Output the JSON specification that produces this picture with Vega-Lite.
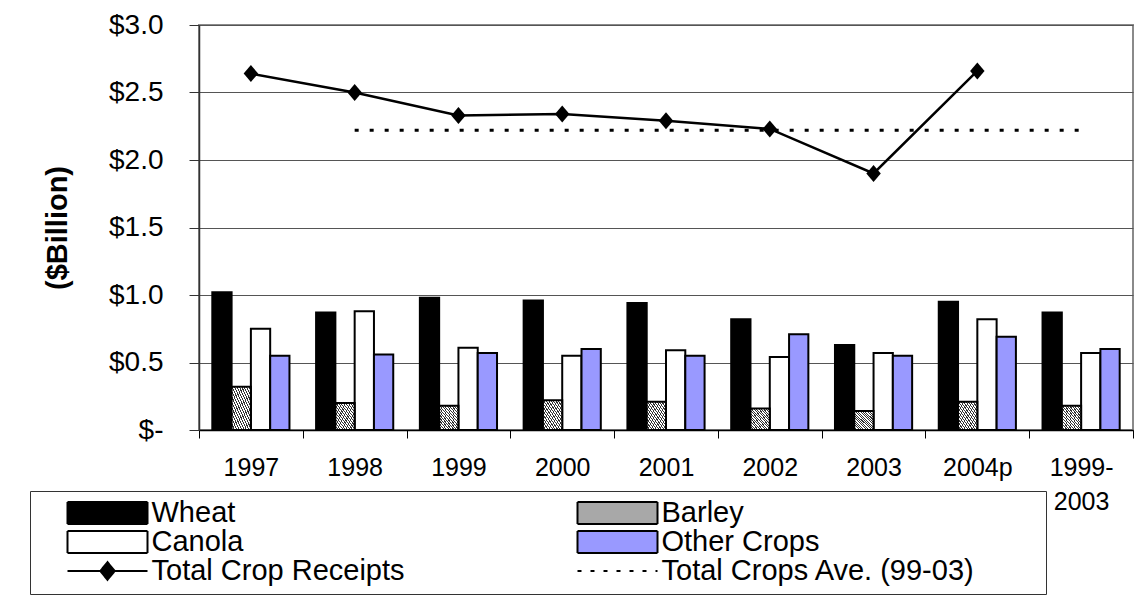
{
  "$schema": "https://vega.github.io/schema/vega-lite/v6.json",
  "width": 934,
  "height": 405,
  "autosize": "none",
  "padding": {"left": 199, "top": 25, "right": 10, "bottom": 169},
  "background": "white",
  "config": {
    "font": "Liberation Sans",
    "view": {"stroke": "#8a8a8a", "strokeWidth": 2}
  },
  "data": {
    "values": [
      {"year": "1997", "series": "Wheat", "value": 1.02},
      {"year": "1997", "series": "Barley", "value": 0.32},
      {"year": "1997", "series": "Canola", "value": 0.75},
      {"year": "1997", "series": "Other Crops", "value": 0.55},
      {"year": "1998", "series": "Wheat", "value": 0.87},
      {"year": "1998", "series": "Barley", "value": 0.20},
      {"year": "1998", "series": "Canola", "value": 0.88},
      {"year": "1998", "series": "Other Crops", "value": 0.56},
      {"year": "1999", "series": "Wheat", "value": 0.98},
      {"year": "1999", "series": "Barley", "value": 0.18},
      {"year": "1999", "series": "Canola", "value": 0.61},
      {"year": "1999", "series": "Other Crops", "value": 0.57},
      {"year": "2000", "series": "Wheat", "value": 0.96},
      {"year": "2000", "series": "Barley", "value": 0.22},
      {"year": "2000", "series": "Canola", "value": 0.55},
      {"year": "2000", "series": "Other Crops", "value": 0.60},
      {"year": "2001", "series": "Wheat", "value": 0.94},
      {"year": "2001", "series": "Barley", "value": 0.21},
      {"year": "2001", "series": "Canola", "value": 0.59},
      {"year": "2001", "series": "Other Crops", "value": 0.55},
      {"year": "2002", "series": "Wheat", "value": 0.82},
      {"year": "2002", "series": "Barley", "value": 0.16},
      {"year": "2002", "series": "Canola", "value": 0.54},
      {"year": "2002", "series": "Other Crops", "value": 0.71},
      {"year": "2003", "series": "Wheat", "value": 0.63},
      {"year": "2003", "series": "Barley", "value": 0.14},
      {"year": "2003", "series": "Canola", "value": 0.57},
      {"year": "2003", "series": "Other Crops", "value": 0.55},
      {"year": "2004p", "series": "Wheat", "value": 0.95},
      {"year": "2004p", "series": "Barley", "value": 0.21},
      {"year": "2004p", "series": "Canola", "value": 0.82},
      {"year": "2004p", "series": "Other Crops", "value": 0.69},
      {"year": "1999-2003", "series": "Wheat", "value": 0.87},
      {"year": "1999-2003", "series": "Barley", "value": 0.18},
      {"year": "1999-2003", "series": "Canola", "value": 0.57},
      {"year": "1999-2003", "series": "Other Crops", "value": 0.60},
      {"year": "1997", "series": "Total Crop Receipts", "value": 2.64},
      {"year": "1998", "series": "Total Crop Receipts", "value": 2.50},
      {"year": "1999", "series": "Total Crop Receipts", "value": 2.33},
      {"year": "2000", "series": "Total Crop Receipts", "value": 2.34},
      {"year": "2001", "series": "Total Crop Receipts", "value": 2.29},
      {"year": "2002", "series": "Total Crop Receipts", "value": 2.23},
      {"year": "2003", "series": "Total Crop Receipts", "value": 1.90},
      {"year": "2004p", "series": "Total Crop Receipts", "value": 2.66},
      {"year": "1998", "series": "Total Crops Ave. (99-03)", "value": 2.22},
      {"year": "1999-2003", "series": "Total Crops Ave. (99-03)", "value": 2.22}
    ]
  },
  "encoding": {
    "x": {
      "field": "year",
      "type": "nominal",
      "sort": ["1997", "1998", "1999", "2000", "2001", "2002", "2003", "2004p", "1999-2003"],
      "scale": {"paddingInner": 0, "paddingOuter": 0},
      "axis": {
        "title": null,
        "labelFontSize": 25,
        "labelColor": "black",
        "labelAngle": 0,
        "tickSize": 8,
        "tickBand": "extent",
        "tickColor": "black",
        "domainColor": "black",
        "domainWidth": 1.5,
        "labelPadding": 17,
        "labelLineHeight": 34,
        "labelBaseline": "top",
        "labelExpr": "datum.label == '1999-2003' ? ['1999-', '2003'] : datum.label"
      }
    },
    "y": {
      "field": "value",
      "type": "quantitative",
      "scale": {"domain": [0, 3], "nice": false},
      "axis": {
        "values": [0, 0.5, 1, 1.5, 2, 2.5, 3],
        "labelExpr": "datum.value == 0 ? '$-' : '$' + format(datum.value, '.1f')",
        "labelFontSize": 28,
        "labelColor": "black",
        "labelPadding": 26,
        "tickSize": 10,
        "tickColor": "#333",
        "domainColor": "#333",
        "domainWidth": 1.5,
        "gridColor": "#555",
        "title": "($Billion)",
        "titleFontSize": 29,
        "titleFontWeight": "bold",
        "titleColor": "black",
        "titleAngle": 270,
        "titleX": -142,
        "titleY": 202.5,
        "titleAlign": "center",
        "titleBaseline": "middle"
      }
    }
  },
  "layer": [
    {
      "transform": [{"filter": "indexof(['Wheat','Canola','Other Crops'], datum.series) >= 0"}],
      "mark": {"type": "bar", "stroke": "black", "strokeWidth": 2},
      "encoding": {
        "xOffset": {
          "field": "series",
          "type": "nominal",
          "sort": ["Wheat", "Barley", "Canola", "Other Crops"],
          "scale": {"domain": ["Wheat", "Barley", "Canola", "Other Crops"], "paddingInner": 0, "paddingOuter": 0.69}
        },
        "fill": {
          "field": "series",
          "type": "nominal",
          "scale": {
            "domain": ["Wheat", "Canola", "Total Crop Receipts", "Barley", "Other Crops", "Total Crops Ave. (99-03)"],
            "range": ["#000000", "#ffffff", "#000000", "#a8a8a8", "#9999ff", "#000000"]
          },
          "legend": {
            "title": "\u00a0",
            "titleOrient": "right",
            "titlePadding": 63,
            "titleFontSize": 10,
            "orient": "none",
            "legendX": -169,
            "legendY": 466,
            "columns": 2,
            "strokeColor": "#333",
            "padding": 8,
            "labelFontSize": 29,
            "labelColor": "black",
            "labelLimit": 700,
            "symbolSize": 6400,
            "symbolStrokeWidth": 2,
            "clipHeight": 28,
            "rowPadding": 0,
            "columnPadding": 143,
            "symbolOffset": 28.5,
            "labelOffset": 3
          }
        }
      }
    },
    {
      "transform": [{"filter": "datum.series == 'Barley'"}],
      "mark": {
        "type": "bar",
        "stroke": "black",
        "strokeWidth": 2,
        "fill": {"gradient": "linear", "x1": 0, "y1": 1, "x2": 1, "y2": 0, "stops": [
          {"offset": 0, "color": "#333"}, {"offset": 0.028, "color": "#333"}, {"offset": 0.028, "color": "#fff"}, {"offset": 0.0625, "color": "#fff"},
          {"offset": 0.0625, "color": "#333"}, {"offset": 0.0906, "color": "#333"}, {"offset": 0.0906, "color": "#fff"}, {"offset": 0.125, "color": "#fff"},
          {"offset": 0.125, "color": "#333"}, {"offset": 0.1531, "color": "#333"}, {"offset": 0.1531, "color": "#fff"}, {"offset": 0.1875, "color": "#fff"},
          {"offset": 0.1875, "color": "#333"}, {"offset": 0.2156, "color": "#333"}, {"offset": 0.2156, "color": "#fff"}, {"offset": 0.25, "color": "#fff"},
          {"offset": 0.25, "color": "#333"}, {"offset": 0.2781, "color": "#333"}, {"offset": 0.2781, "color": "#fff"}, {"offset": 0.3125, "color": "#fff"},
          {"offset": 0.3125, "color": "#333"}, {"offset": 0.3406, "color": "#333"}, {"offset": 0.3406, "color": "#fff"}, {"offset": 0.375, "color": "#fff"},
          {"offset": 0.375, "color": "#333"}, {"offset": 0.4031, "color": "#333"}, {"offset": 0.4031, "color": "#fff"}, {"offset": 0.4375, "color": "#fff"},
          {"offset": 0.4375, "color": "#333"}, {"offset": 0.4656, "color": "#333"}, {"offset": 0.4656, "color": "#fff"}, {"offset": 0.5, "color": "#fff"},
          {"offset": 0.5, "color": "#333"}, {"offset": 0.5281, "color": "#333"}, {"offset": 0.5281, "color": "#fff"}, {"offset": 0.5625, "color": "#fff"},
          {"offset": 0.5625, "color": "#333"}, {"offset": 0.5906, "color": "#333"}, {"offset": 0.5906, "color": "#fff"}, {"offset": 0.625, "color": "#fff"},
          {"offset": 0.625, "color": "#333"}, {"offset": 0.6531, "color": "#333"}, {"offset": 0.6531, "color": "#fff"}, {"offset": 0.6875, "color": "#fff"},
          {"offset": 0.6875, "color": "#333"}, {"offset": 0.7156, "color": "#333"}, {"offset": 0.7156, "color": "#fff"}, {"offset": 0.75, "color": "#fff"},
          {"offset": 0.75, "color": "#333"}, {"offset": 0.7781, "color": "#333"}, {"offset": 0.7781, "color": "#fff"}, {"offset": 0.8125, "color": "#fff"},
          {"offset": 0.8125, "color": "#333"}, {"offset": 0.8406, "color": "#333"}, {"offset": 0.8406, "color": "#fff"}, {"offset": 0.875, "color": "#fff"},
          {"offset": 0.875, "color": "#333"}, {"offset": 0.9031, "color": "#333"}, {"offset": 0.9031, "color": "#fff"}, {"offset": 0.9375, "color": "#fff"},
          {"offset": 0.9375, "color": "#333"}, {"offset": 0.9656, "color": "#333"}, {"offset": 0.9656, "color": "#fff"}, {"offset": 1, "color": "#fff"}
        ]}
      },
      "encoding": {
        "xOffset": {
          "field": "series",
          "type": "nominal",
          "sort": ["Wheat", "Barley", "Canola", "Other Crops"],
          "scale": {"domain": ["Wheat", "Barley", "Canola", "Other Crops"], "paddingInner": 0, "paddingOuter": 0.69}
        }
      }
    },
    {
      "transform": [{"filter": "datum.series == 'Total Crops Ave. (99-03)'"}],
      "mark": {"type": "line", "color": "black", "strokeWidth": 3, "strokeDash": [4, 11]},
      "encoding": {}
    },
    {
      "transform": [{"filter": "datum.series == 'Total Crop Receipts'"}],
      "mark": {
        "type": "line",
        "color": "black",
        "strokeWidth": 2.5,
        "point": {"shape": "M0,-1L0.85,0L0,1L-0.85,0Z", "size": 289, "filled": true, "color": "black", "opacity": 1}
      },
      "encoding": {}
    },
    {
      "transform": [{"filter": "false"}],
      "mark": {"type": "point", "filled": true, "opacity": 1, "strokeWidth": 2},
      "encoding": {
        "fill": {
          "field": "series",
          "type": "nominal"
        },
        "stroke": {
          "field": "series",
          "type": "nominal",
          "scale": {
            "domain": ["Wheat", "Canola", "Total Crop Receipts", "Barley", "Other Crops", "Total Crops Ave. (99-03)"],
            "range": ["#000000", "#000000", "#000000", "#000000", "#000000", "#000000"]
          }
        },
        "shape": {
          "field": "series",
          "type": "nominal",
          "scale": {
            "domain": ["Wheat", "Canola", "Total Crop Receipts", "Barley", "Other Crops", "Total Crops Ave. (99-03)"],
            "range": ["M-1,-0.275H1V0.275H-1Z", "M-1,-0.275H1V0.275H-1Z", "M-1,0H1M0,-0.22L0.18,0L0,0.22L-0.18,0Z", "M-1,-0.275H1V0.275H-1Z", "M-1,-0.275H1V0.275H-1Z", "M-1,0H1"]
          }
        },
        "strokeDash": {
          "field": "series",
          "type": "nominal",
          "scale": {
            "domain": ["Wheat", "Canola", "Total Crop Receipts", "Barley", "Other Crops", "Total Crops Ave. (99-03)"],
            "range": [[1, 0], [1, 0], [1, 0], [1, 0], [1, 0], [4, 9]]
          }
        }
      }
    }
  ]
}
